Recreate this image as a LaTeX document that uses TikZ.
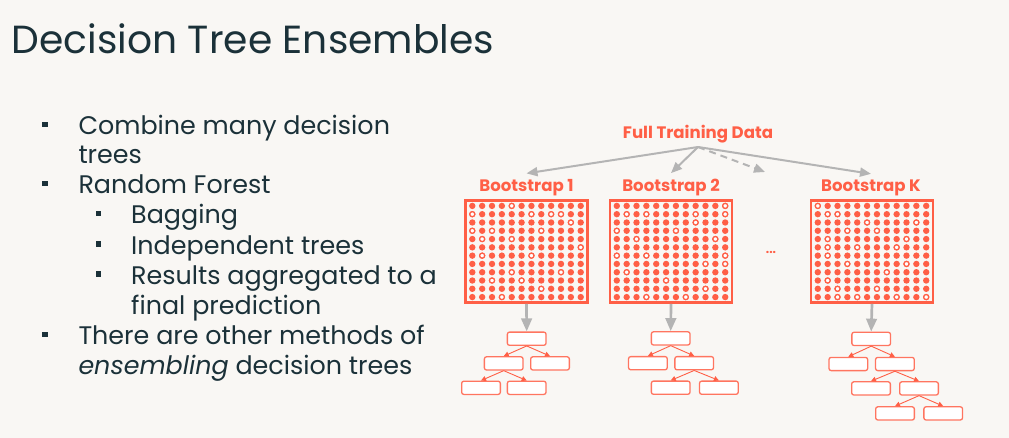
\documentclass[tikz,border=0pt]{standalone}
\usepackage{fontspec}
\setmainfont{Poppins}
\usetikzlibrary{arrows.meta}

\definecolor{oat}{HTML}{F9F7F4}
\definecolor{navy}{HTML}{1B3139}
\definecolor{lava}{HTML}{FF5F46}
\definecolor{lavasoft}{HTML}{FF7560}
\definecolor{arrowgray}{HTML}{B4B4B4}

% 12 x 12 sample grid inside a bootstrap box; #2 lists the rows/columns left out
\newcommand\samplegrid[2]{%
  \foreach \r in {0,...,11}{\foreach \c in {0,...,11}{
    \fill[lava, shift={(#1.center)}] (-54.2+9.855*\c, -45.6+8.29*\r) circle (3.2);}}
  \foreach \r/\c in {#2}{
    \filldraw[draw=lava, fill=white, line width=1.2pt, shift={(#1.center)}]
      (-54.2+9.855*\c, -45.6+8.29*\r) circle (2.5);}
}

\begin{document}
\begin{tikzpicture}[x=1pt,y=-1pt,
  heading/.style={anchor=base west, inner sep=0, text=navy, font=\fontsize{39.2}{47}\selectfont},
  bullettext/.style={anchor=base west, inner sep=0, text=navy, font=\fontsize{25.4}{30}\selectfont},
  bulletmark/.style={fill=navy, minimum size=5.4pt, inner sep=0},
  datalabel/.style={anchor=base, inner sep=0, text=lava, font=\bfseries\fontsize{16.6}{20}\selectfont},
  gridbox/.style={draw=lava, line width=2.6pt, minimum width=122pt, minimum height=102pt, inner sep=0},
  treebox/.style={draw=lavasoft, fill=white, line width=1.3pt, rounded corners=2.2pt,
    minimum width=38.7pt, minimum height=13.2pt, inner sep=0},
  fanout/.style={draw=arrowgray, line width=2pt, -{Triangle[length=11pt,width=9pt]}},
  feed/.style={draw=arrowgray, line width=2.7pt, -{Triangle[length=13pt,width=10.5pt]}},
  split/.style={draw=lava, line width=0.9pt, -{Triangle[length=5pt,width=5pt]}},
]
\useasboundingbox (0,0) rectangle (1009,438);
\fill[oat] (0,0) rectangle (1009,438);

% title
\node[heading] (title) at (11.5,53.3) {Decision Tree Ensembles};

% bullet list
\node[bulletmark] (m1) at (45,124.3) {};
\node[bullettext] (l1) at (78.3,134.3) {Combine many decision};
\node[bullettext] (l2) at (78.3,163.8) {trees};
\node[bulletmark] (m2) at (45,183.6) {};
\node[bullettext] (l3) at (78.3,193.6) {Random Forest};
\node[bulletmark] (m3) at (98.5,213.6) {};
\node[bullettext] (l4) at (131,223.6) {Bagging};
\node[bulletmark] (m4) at (98.5,244.1) {};
\node[bullettext] (l5) at (131,254.1) {Independent trees};
\node[bulletmark] (m5) at (98.5,274.2) {};
\node[bullettext] (l6) at (131,284.2) {Results aggregated to a};
\node[bullettext] (l7) at (131,314.3) {final prediction};
\node[bulletmark] (m6) at (45,334.3) {};
\node[bullettext] (l8) at (78.3,344.3) {There are other methods of};
\node[bullettext] (l9) at (78.3,374.3) {\itshape ensembling\upshape{} decision trees};

% full data and bootstrap samples
\node[datalabel] (full) at (698,138.3) {Full Training Data};
\coordinate (fork) at (698,147);
\node[datalabel] (bs1) at (526.5,191.7) {Bootstrap 1};
\node[datalabel] (bs2) at (671,191.7) {Bootstrap 2};
\node[datalabel] (bsk) at (871,191.7) {Bootstrap K};
\coordinate (more) at (765,172);

\draw[fanout] (fork) -- ([yshift=6pt]bs1.north);
\draw[fanout] (fork) -- ([yshift=6pt]bs2.north);
\draw[fanout, dashed, dash pattern=on 7pt off 5pt] (fork) -- (more);
\draw[fanout] (fork) -- ([yshift=6pt]bsk.north);

\node[gridbox] (b1) at (526.5,251.5) {};
\node[gridbox] (b2) at (671,251.5) {};
\node[gridbox] (bk) at (872,251.5) {};

\samplegrid{b1}{0/4, 1/0, 1/6, 1/8, 1/9, 2/10, 3/0, 3/2, 3/7, 4/1, 4/4, 5/11, 6/1, 6/6, 8/4, 8/9, 9/2, 9/5, 10/7, 11/3}
\samplegrid{b2}{0/11, 1/1, 1/3, 1/8, 1/11, 2/8, 3/0, 3/6, 4/2, 4/10, 6/0, 6/3, 6/11, 7/9, 7/11, 8/1, 9/5, 10/9, 11/3, 11/7}
\samplegrid{bk}{0/0, 1/1, 1/2, 2/5, 2/10, 3/3, 3/6, 4/1, 4/9, 5/1, 5/4, 5/8, 6/1, 7/3, 7/9, 8/7, 9/1, 10/2, 10/6, 11/2, 11/4, 11/8, 11/11}

\node[text=lava, font=\bfseries\fontsize{12}{14}\selectfont, inner sep=0] (dots) at (771,252) {...};

% tree grown on bootstrap 1
\node[treebox] (t1a) at (526.7,338.7) {};
\node[treebox] (t1b) at (503.7,363.4) {};
\node[treebox] (t1c) at (550,363.4) {};
\node[treebox] (t1d) at (481,387.8) {};
\node[treebox] (t1e) at (526.7,387.8) {};
\draw[feed] (b1.south) -- (t1a.north);
\draw[split] (t1a.south) -- (t1b.north);
\draw[split] (t1a.south) -- (t1c.north);
\draw[split] (t1b.south) -- (t1d.north);
\draw[split] (t1b.south) -- (t1e.north);

% tree grown on bootstrap 2
\node[treebox] (t2a) at (670.7,338.4) {};
\node[treebox] (t2b) at (647.9,363.2) {};
\node[treebox] (t2c) at (694.2,363.2) {};
\node[treebox] (t2d) at (670.7,387.7) {};
\node[treebox] (t2e) at (718.9,387.7) {};
\draw[feed] (b2.south) -- (t2a.north);
\draw[split] (t2a.south) -- (t2b.north);
\draw[split] (t2a.south) -- (t2c.north);
\draw[split] (t2c.south) -- (t2d.north);
\draw[split] (t2c.south) -- (t2e.north);

% tree grown on bootstrap K
\node[treebox] (tka) at (871.2,338.9) {};
\node[treebox] (tkb) at (848.3,364) {};
\node[treebox] (tkc) at (894.9,364) {};
\node[treebox] (tkd) at (871,388.4) {};
\node[treebox] (tke) at (919,388.4) {};
\node[treebox] (tkf) at (895,413.4) {};
\node[treebox] (tkg) at (943.2,413.4) {};
\draw[feed] (bk.south) -- (tka.north);
\draw[split] (tka.south) -- (tkb.north);
\draw[split] (tka.south) -- (tkc.north);
\draw[split] (tkc.south) -- (tkd.north);
\draw[split] (tkc.south) -- (tke.north);
\draw[split] (tke.south) -- (tkf.north);
\draw[split] (tke.south) -- (tkg.north);
\end{tikzpicture}
\end{document}
